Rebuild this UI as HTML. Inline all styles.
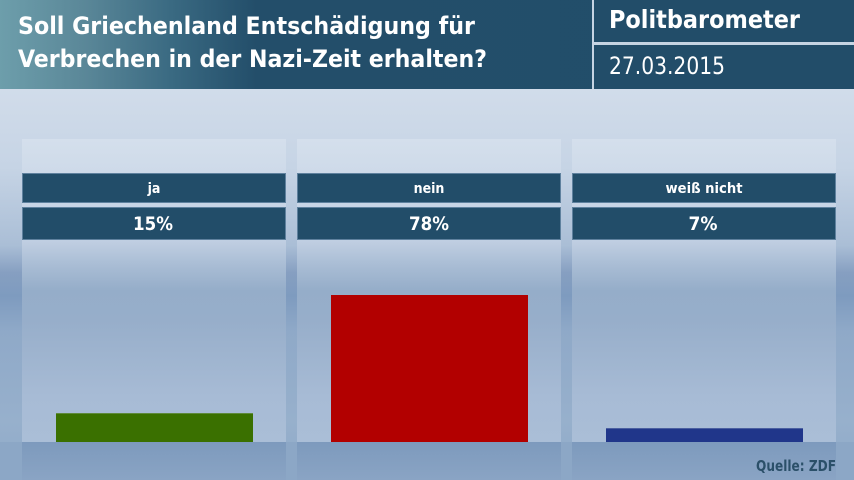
<!DOCTYPE html>
<html><head><meta charset="utf-8"><style>
html,body{margin:0;padding:0;width:854px;height:480px;overflow:hidden;}
svg{display:block;}
</style></head><body>
<svg width="854" height="480" viewBox="0 0 854 480" xmlns="http://www.w3.org/2000/svg">
<defs>
<linearGradient id="bg" x1="0" y1="89" x2="0" y2="480" gradientUnits="userSpaceOnUse">
<stop offset="0" stop-color="#d1dcea"/>
<stop offset="0.2" stop-color="#c6d4e5"/>
<stop offset="0.4" stop-color="#aabed6"/>
<stop offset="0.47" stop-color="#869fc1"/>
<stop offset="0.53" stop-color="#7e9bbf"/>
<stop offset="0.62" stop-color="#8fa9c8"/>
<stop offset="0.85" stop-color="#97b0cc"/>
<stop offset="1" stop-color="#8ea9c8"/>
</linearGradient>
<linearGradient id="panel" x1="0" y1="139" x2="0" y2="442" gradientUnits="userSpaceOnUse">
<stop offset="0" stop-color="#d4dfec"/>
<stop offset="0.33" stop-color="#c2d0e3"/>
<stop offset="0.42" stop-color="#a8bcd4"/>
<stop offset="0.5" stop-color="#95adc9"/>
<stop offset="0.6" stop-color="#97aeca"/>
<stop offset="0.85" stop-color="#a7bbd5"/>
<stop offset="1" stop-color="#aabed7"/>
</linearGradient>
<linearGradient id="floor" x1="0" y1="442" x2="0" y2="480" gradientUnits="userSpaceOnUse">
<stop offset="0" stop-color="#7d9abd"/>
<stop offset="1" stop-color="#8aa4c4"/>
</linearGradient>
<linearGradient id="hdr" x1="0" y1="0" x2="854" y2="0" gradientUnits="userSpaceOnUse">
<stop offset="0" stop-color="#6d9eab"/>
<stop offset="0.1" stop-color="#5a8798"/>
<stop offset="0.2" stop-color="#3a6a82"/>
<stop offset="0.3" stop-color="#234e6a"/>
<stop offset="1" stop-color="#224d69"/>
</linearGradient>
</defs>
<rect x="0" y="0" width="854" height="480" fill="url(#bg)"/>
<!-- floor gaps -->
<rect x="0" y="442" width="854" height="38" fill="#8ca7c6"/>
<!-- header -->
<rect x="0" y="0" width="592" height="89" fill="url(#hdr)"/>
<rect x="592" y="0" width="2" height="89" fill="#c6d4e3"/>
<rect x="594" y="0" width="260" height="42" fill="#224d69"/>
<rect x="594" y="42" width="260" height="3" fill="#c6d4e3"/>
<rect x="594" y="45" width="260" height="44" fill="#224d69"/>
<g font-family="'DejaVu Sans Condensed','DejaVu Sans','Liberation Sans',sans-serif" fill="#ffffff">
<text x="18" y="34" font-size="24" font-weight="bold" textLength="457" lengthAdjust="spacingAndGlyphs">Soll Griechenland Entschädigung für</text>
<text x="18" y="67" font-size="24" font-weight="bold" textLength="469" lengthAdjust="spacingAndGlyphs">Verbrechen in der Nazi-Zeit erhalten?</text>
<text x="609" y="28" font-size="25" font-weight="bold" textLength="191" lengthAdjust="spacingAndGlyphs">Politbarometer</text>
<text x="609" y="74" font-size="24" textLength="116" lengthAdjust="spacingAndGlyphs">27.03.2015</text>
</g>
<!-- panels -->
<g>
<rect x="22" y="139" width="264" height="303" fill="url(#panel)"/>
<rect x="297" y="139" width="264" height="303" fill="url(#panel)"/>
<rect x="572" y="139" width="264" height="303" fill="url(#panel)"/>
<rect x="22" y="442" width="264" height="38" fill="url(#floor)"/>
<rect x="297" y="442" width="264" height="38" fill="url(#floor)"/>
<rect x="572" y="442" width="264" height="38" fill="url(#floor)"/>
</g>
<!-- label bars -->
<g fill="#224d69" stroke="#5f819e" stroke-width="1">
<rect x="22.5" y="173.5" width="263" height="29"/>
<rect x="297.5" y="173.5" width="263" height="29"/>
<rect x="572.5" y="173.5" width="263" height="29"/>
<rect x="22.5" y="207.5" width="263" height="32"/>
<rect x="297.5" y="207.5" width="263" height="32"/>
<rect x="572.5" y="207.5" width="263" height="32"/>
</g>
<g font-family="'DejaVu Sans Condensed','DejaVu Sans','Liberation Sans',sans-serif" fill="#ffffff" font-weight="bold" text-anchor="middle">
<text x="154" y="193" font-size="14">ja</text>
<text x="429" y="193" font-size="14">nein</text>
<text x="704" y="193" font-size="14" textLength="77" lengthAdjust="spacingAndGlyphs">weiß nicht</text>
<text x="153" y="230" font-size="19" textLength="40" lengthAdjust="spacingAndGlyphs">15%</text>
<text x="429" y="230" font-size="19" textLength="40" lengthAdjust="spacingAndGlyphs">78%</text>
<text x="703" y="230" font-size="19" textLength="29" lengthAdjust="spacingAndGlyphs">7%</text>
</g>
<!-- bars -->
<rect x="56" y="413" width="197" height="29" fill="#3a7000"/>
<rect x="56" y="413" width="197" height="1" fill="#5f8a3a"/>
<rect x="331" y="295" width="197" height="147" fill="#b20000"/>
<rect x="606" y="428" width="197" height="14" fill="#20368a"/>
<rect x="606" y="428" width="197" height="1" fill="#4a5fa0"/>
<text x="836" y="471" font-family="'DejaVu Sans Condensed','DejaVu Sans','Liberation Sans',sans-serif" font-size="15" font-weight="bold" fill="#2b5069" text-anchor="end" textLength="80" lengthAdjust="spacingAndGlyphs">Quelle: ZDF</text>
</svg>
</body></html>
